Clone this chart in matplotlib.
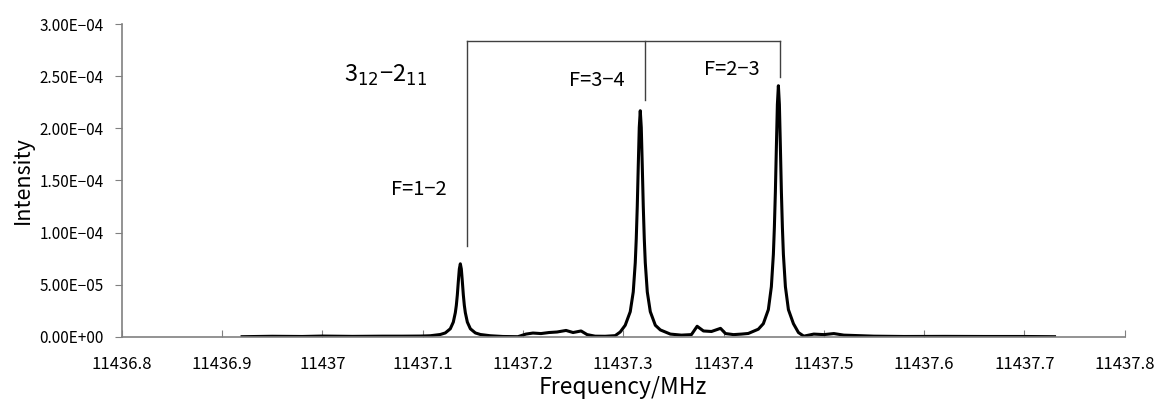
import numpy as np
import matplotlib.pyplot as plt

plt.rcParams['font.family'] = ['Noto Sans CJK JP', 'DejaVu Sans']

# Spektrum (Frequenz in MHz, Intensität in Einheiten von 1E-05)
freq = [
    11436.920, 11436.950, 11436.980, 11437.000, 11437.030, 11437.060, 11437.080,
    11437.0976, 11437.1076, 11437.1176, 11437.1226, 11437.1276, 11437.1306, 11437.1326,
    11437.1336, 11437.1346, 11437.1356, 11437.1366, 11437.1376, 11437.1386, 11437.1396,
    11437.1406, 11437.1416, 11437.1426, 11437.1446, 11437.1476, 11437.1526, 11437.1576,
    11437.1676, 11437.180, 11437.195, 11437.203, 11437.210, 11437.218, 11437.226,
    11437.234, 11437.243, 11437.250, 11437.258, 11437.264, 11437.272, 11437.282,
    11437.292, 11437.297, 11437.302, 11437.307, 11437.310, 11437.312, 11437.313,
    11437.314, 11437.315, 11437.316, 11437.317, 11437.318, 11437.319, 11437.320,
    11437.321, 11437.322, 11437.324, 11437.327, 11437.332, 11437.337, 11437.347,
    11437.358, 11437.368, 11437.3737, 11437.380, 11437.388, 11437.397, 11437.402,
    11437.410, 11437.418, 11437.4247, 11437.4347, 11437.4397, 11437.4447, 11437.4477,
    11437.4497, 11437.4507, 11437.4517, 11437.4527, 11437.4537, 11437.4547, 11437.4557,
    11437.4567, 11437.4577, 11437.4587, 11437.4597, 11437.4617, 11437.4647, 11437.4697,
    11437.4747, 11437.480, 11437.490, 11437.500, 11437.510, 11437.520, 11437.535,
    11437.550, 11437.580, 11437.620, 11437.660, 11437.700, 11437.730,
]
intensity = [
    0.00, 0.04, 0.02, 0.06, 0.03, 0.05, 0.05,
    0.06, 0.09, 0.21, 0.36, 0.76, 1.4, 2.3,
    3.0, 4.0, 5.3, 6.5, 7.0, 6.5, 5.3,
    4.0, 3.0, 2.3, 1.4, 0.76, 0.36, 0.21,
    0.09, 0.02, 0.00, 0.25, 0.35, 0.30, 0.40,
    0.45, 0.60, 0.40, 0.55, 0.20, 0.05, 0.04,
    0.10, 0.45, 1.1, 2.4, 4.3, 7.1, 9.4,
    12.5, 16.4, 20.1, 21.7, 20.1, 16.4, 12.5,
    9.4, 7.1, 4.3, 2.4, 1.1, 0.65, 0.25,
    0.15, 0.20, 1.00, 0.55, 0.50, 0.80, 0.30,
    0.20, 0.25, 0.31, 0.72, 1.25, 2.6, 4.8,
    7.9, 10.5, 13.9, 18.2, 22.3, 24.1, 22.3,
    18.2, 13.9, 10.5, 7.9, 4.8, 2.6, 1.25,
    0.40, 0.05, 0.25, 0.20, 0.30, 0.15, 0.10,
    0.05, 0.02, 0.03, 0.02, 0.02, 0.00,
]

x_ticks = [11436.8, 11436.9, 11437.0, 11437.1, 11437.2, 11437.3, 11437.4,
           11437.5, 11437.6, 11437.7, 11437.8]
x_tick_labels = ["11436.8", "11436.9", "11437", "11437.1", "11437.2", "11437.3",
                 "11437.4", "11437.5", "11437.6", "11437.7", "11437.8"]
y_ticks = [0, 5e-5, 1e-4, 1.5e-4, 2e-4, 2.5e-4, 3e-4]
y_tick_labels = ["0.00E+00", "5.00E-05", "1.00E-04", "1.50E-04", "2.00E-04",
                 "2.50E-04", "3.00E-04"]

# Zuordnung: Klammer über den Linien
bracket_x = [11437.1445, 11437.3215, 11437.4566]
bracket_bottom = [0.872e-4, 2.27e-4, 2.49e-4]
bracket_top = 2.837e-4

fig = plt.figure(figsize=(11.57, 4.04), dpi=100)
ax = fig.add_axes([0.1052, 0.1666, 0.8669, 0.7733])

ax.plot(freq, np.array(intensity) * 1e-5, color="black", linewidth=2.2)

# Klammer
ax.plot([bracket_x[0], bracket_x[-1]], [bracket_top, bracket_top], color="#404040", linewidth=1)
for bx, bb in zip(bracket_x, bracket_bottom):
    ax.plot([bx, bx], [bb, bracket_top], color="#404040", linewidth=1)

ax.text(11437.063, 2.511e-4, "3$_{12}$\u22122$_{11}$", fontsize=17, ha="center", va="center")
ax.text(11437.0958, 1.409e-4, "F=1\u22122", fontsize=14.5, ha="center", va="center")
ax.text(11437.274, 2.463e-4, "F=3\u22124", fontsize=14.5, ha="center", va="center")
ax.text(11437.4086, 2.564e-4, "F=2\u22123", fontsize=14.5, ha="center", va="center")

ax.set_xlim(11436.8, 11437.8)
ax.set_ylim(0, 3e-4)
ax.set_xticks(x_ticks)
ax.set_xticklabels(x_tick_labels, fontsize=12)
ax.set_yticks(y_ticks)
ax.set_yticklabels([s.replace("-", "\u2212") for s in y_tick_labels], fontsize=11)
ax.tick_params(axis="x", direction="in", length=5, color="#808080", pad=14)
ax.tick_params(axis="y", direction="out", length=5, color="#808080", pad=8)

for side in ["top", "right"]:
    ax.spines[side].set_visible(False)
for side in ["left", "bottom"]:
    ax.spines[side].set_color("#808080")
    ax.spines[side].set_linewidth(1.2)

ax.set_xlabel("Frequency/MHz", fontsize=16.5, labelpad=2)
ax.set_ylabel("Intensity", fontsize=15.5, labelpad=4)

fig.savefig("out.png", dpi=100)
